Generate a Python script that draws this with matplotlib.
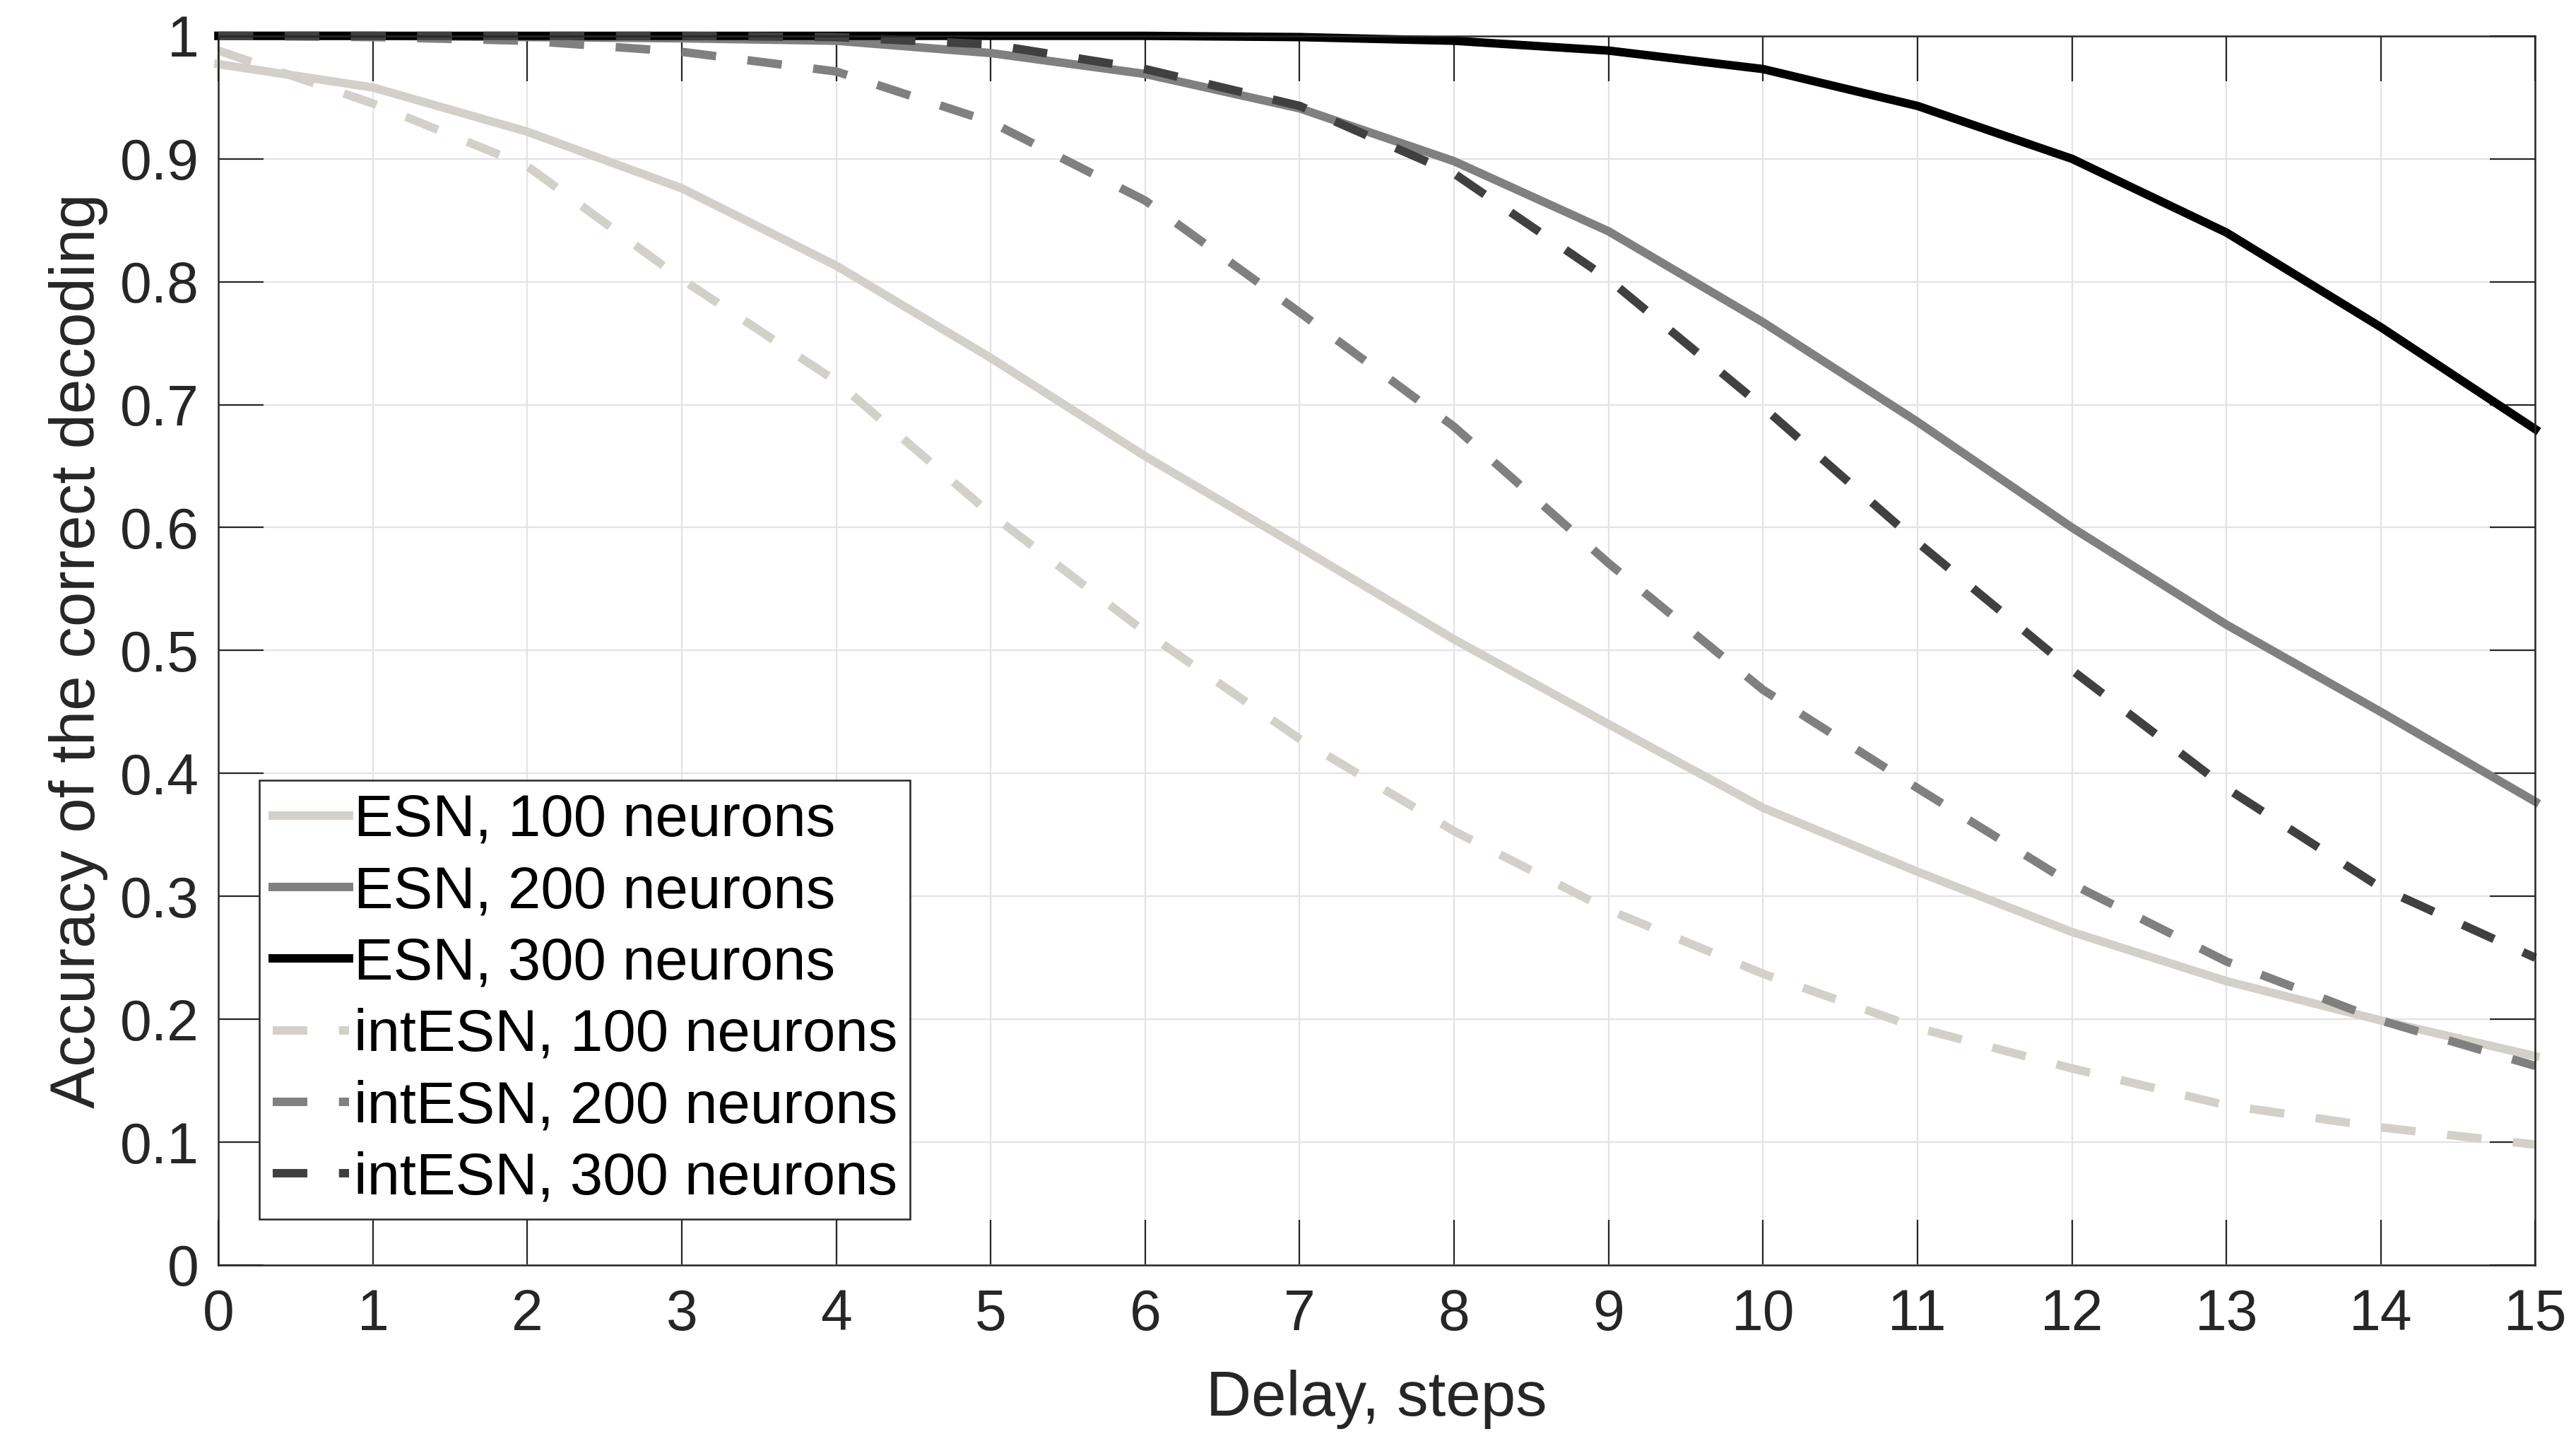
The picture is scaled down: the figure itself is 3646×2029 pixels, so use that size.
import numpy as np
import matplotlib.pyplot as plt

plt.rcParams['font.family'] = ['Liberation Sans', 'DejaVu Sans']

delay = np.arange(0, 16)

# accuracy
esn_100 = [0.977, 0.958, 0.922, 0.876, 0.813, 0.738, 0.658, 0.584,
           0.509, 0.440, 0.372, 0.320, 0.271, 0.231, 0.199, 0.170]
esn_200 = [1.000, 1.000, 0.999, 0.998, 0.996, 0.986, 0.969, 0.941,
           0.898, 0.841, 0.767, 0.686, 0.600, 0.521, 0.450, 0.377]
esn_300 = [1.000, 1.000, 1.000, 1.000, 1.000, 1.000, 1.000, 0.999,
           0.996, 0.988, 0.973, 0.943, 0.900, 0.840, 0.763, 0.680]
int_100 = [0.988, 0.945, 0.894, 0.802, 0.719, 0.611, 0.515, 0.428,
           0.353, 0.289, 0.237, 0.193, 0.160, 0.130, 0.112, 0.098]
int_200 = [1.000, 0.999, 0.996, 0.987, 0.971, 0.930, 0.866, 0.775,
           0.682, 0.571, 0.468, 0.388, 0.310, 0.247, 0.199, 0.162]
int_300 = [1.000, 1.000, 1.000, 1.000, 0.999, 0.993, 0.973, 0.943,
           0.888, 0.802, 0.698, 0.588, 0.484, 0.388, 0.307, 0.250]

labels = ['ESN, 100 neurons', 'ESN, 200 neurons', 'ESN, 300 neurons',
          'intESN, 100 neurons', 'intESN, 200 neurons', 'intESN, 300 neurons']
colors = ['#d3d0c9', '#808080', '#000000', '#d3d0c9', '#808080', '#404040']
series = [esn_100, esn_200, esn_300, int_100, int_200, int_300]

fig = plt.figure(figsize=(18.23, 10.145), dpi=200)
ax = fig.add_axes([0.0848, 0.1178, 0.8994, 0.8572])

lw = 4.3
for i in range(6):
    if i < 3:
        ax.plot(delay, series[i], color=colors[i], lw=lw, label=labels[i],
                clip_on=False, solid_joinstyle='round')
    else:
        ax.plot(delay, series[i], color=colors[i], lw=lw, label=labels[i],
                clip_on=False, dashes=(4.1, 3.75), dash_capstyle='butt')

ax.set_xlim(0, 15)
ax.set_ylim(0, 1)
ax.set_xticks(delay)
ax.set_yticks(np.round(np.arange(0, 1.01, 0.1), 1))
ax.set_yticklabels(['0', '0.1', '0.2', '0.3', '0.4', '0.5', '0.6', '0.7', '0.8', '0.9', '1'])

ax.grid(True, color='#e3e3e3', lw=0.8)
ax.set_axisbelow(True)
ax.tick_params(direction='in', length=23, width=0.8, top=True, right=True,
               labelsize=29, colors='#262626', pad=10)
ax.tick_params(axis='x', pad=12)
for s in ax.spines.values():
    s.set_color('#262626')
    s.set_linewidth(0.9)

ax.set_xlabel('Delay, steps', fontsize=32, color='#262626', labelpad=14)
ax.set_ylabel('Accuracy of the correct decoding', fontsize=32, color='#262626', labelpad=6)

leg = ax.legend(loc='lower left', bbox_to_anchor=(0.0177, 0.0374), fontsize=30,
                handlelength=1.3, handletextpad=0.08, labelspacing=0.28,
                borderpad=0.22, borderaxespad=0, fancybox=False, framealpha=1)
leg.get_frame().set_edgecolor('#262626')
leg.get_frame().set_linewidth(0.9)

fig.savefig('out.png', dpi=200)
